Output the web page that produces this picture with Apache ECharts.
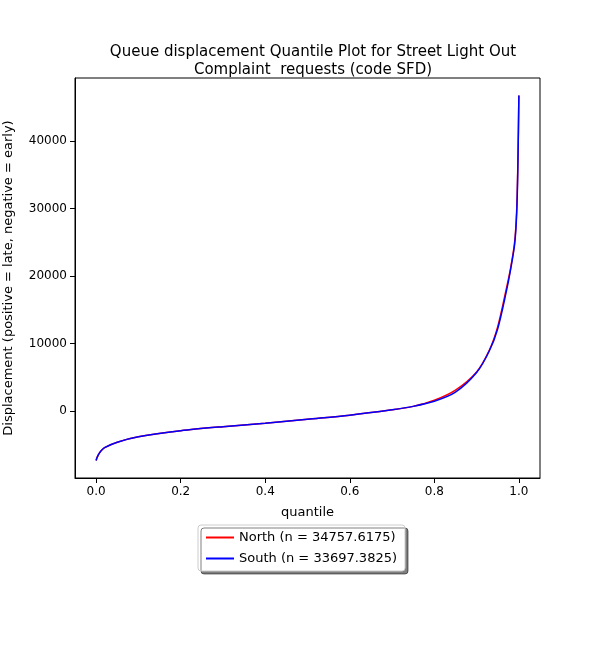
<!DOCTYPE html>
<html><head><meta charset="utf-8">
<script src="https://cdn.jsdelivr.net/npm/echarts@6/dist/echarts.min.js"></script>
<style>body{margin:0}#c{width:600px;height:650px}</style></head>
<body><div id="c"></div>
<script>
const quantiles = [0, 0.002, 0.005, 0.01, 0.02, 0.05, 0.1, 0.2, 0.3, 0.4, 0.5, 0.6, 0.7, 0.75, 0.8, 0.85, 0.9, 0.93, 0.95, 0.97, 0.98, 0.99, 0.995, 0.998, 1.0]
const north = [-7300, -6900, -6500, -6000, -5400, -4600, -3800, -2900, -2300, -1800, -1200, -600, 200, 700, 1600, 3100, 5800, 9000, 12500, 18000, 21000, 25000, 30000, 38000, 46700]
const south = [-7300, -6900, -6500, -6000, -5400, -4600, -3800, -2900, -2300, -1800, -1200, -600, 200, 700, 1450, 2800, 5700, 8900, 12200, 17600, 20800, 24700, 29500, 37500, 46700]
const xTicks = [0, 0.2, 0.4, 0.6, 0.8, 1.0]
const yTicks = [0, 10000, 20000, 30000, 40000]

const chart = echarts.init(document.getElementById('c'))
const font = 'DejaVu Sans'
chart.setOption({
  animation: false,
  textStyle: { fontFamily: font },
  title: {
    text: 'Queue displacement Quantile Plot for Street Light Out\nComplaint  requests (code SFD)',
    left: 308, top: 38, textAlign: 'center',
    textStyle: { fontSize: 15, fontWeight: 'normal', color: '#000', lineHeight: 18, fontFamily: font }
  },
  grid: { left: 75, right: 60, top: 78, bottom: 172, show: true, borderColor: '#000', borderWidth: 1, outerBoundsMode: 'none' },
  xAxis: {
    type: 'value', min: -0.05, max: 1.05,
    name: 'quantile', nameLocation: 'middle', nameGap: 28,
    nameTextStyle: { fontSize: 13, color: '#000' },
    axisLine: { show: true, onZero: false, lineStyle: { color: '#000' } }, splitLine: { show: false },
    axisTick: { show: true, lineStyle: { color: '#000' }, customValues: xTicks },
    axisLabel: { color: '#000', fontSize: 12, customValues: xTicks, formatter: v => v.toFixed(1) }
  },
  yAxis: {
    type: 'value', min: -9900, max: 49300,
    name: 'Displacement (positive = late, negative = early)', nameLocation: 'middle', nameGap: 60,
    nameTextStyle: { fontSize: 13, color: '#000' },
    axisLine: { show: true, onZero: false, lineStyle: { color: '#000' } }, splitLine: { show: false },
    axisTick: { show: true, lineStyle: { color: '#000' }, customValues: yTicks },
    axisLabel: { color: '#000', fontSize: 12, customValues: yTicks, formatter: v => String(v) }
  },
  legend: {
    orient: 'vertical', left: 198, top: 525,
    itemWidth: 28, itemHeight: 2, itemGap: 8,
    icon: 'rect',
    padding: [6, 8],
    borderColor: '#ccc', borderWidth: 1, borderRadius: 3,
    backgroundColor: '#fff',
    shadowColor: 'rgba(0,0,0,0.5)', shadowOffsetX: 3, shadowOffsetY: 3, shadowBlur: 0,
    textStyle: { fontSize: 13, color: '#000' },
    data: ['North (n = 34757.6175)', 'South (n = 33697.3825)']
  },
  series: [
    { name: 'North (n = 34757.6175)', type: 'line', showSymbol: false, smooth: 0.3, color: '#ff0000', lineStyle: { width: 1.5 }, data: quantiles.map((q, i) => [q, north[i]]) },
    { name: 'South (n = 33697.3825)', type: 'line', showSymbol: false, smooth: 0.3, color: '#0000ff', lineStyle: { width: 1.5 }, data: quantiles.map((q, i) => [q, south[i]]) }
  ]
})
</script></body></html>
